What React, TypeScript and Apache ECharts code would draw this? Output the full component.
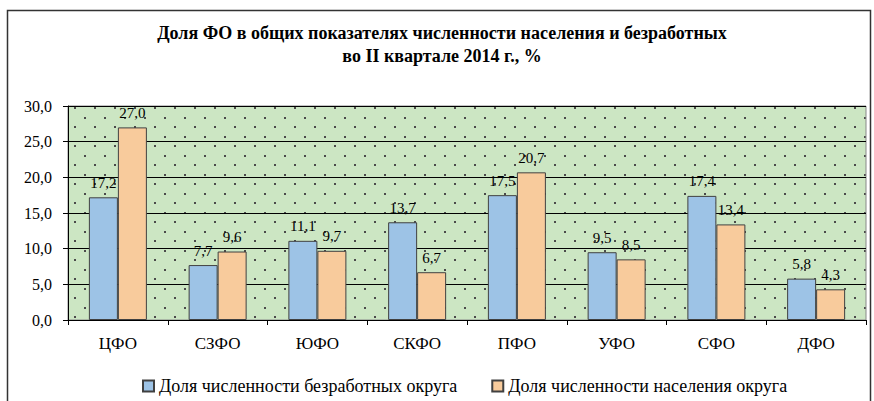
import React, { useEffect, useRef } from "react";
import * as echarts from "echarts";

const categories = ["ЦФО", "СЗФО", "ЮФО", "СКФО", "ПФО", "УФО", "СФО", "ДФО"];
const unemployedShare = [17.2, 7.7, 11.1, 13.7, 17.5, 9.5, 17.4, 5.8];
const populationShare = [27.0, 9.6, 9.7, 6.7, 20.7, 8.5, 13.4, 4.3];
const seriesNames = ["Доля численности безработных округа", "Доля численности населения округа"];
const titleText = "Доля ФО в общих показателях численности населения и безработных\nво II квартале 2014 г., %";

const FONT = "Liberation Serif, Times New Roman, serif";

function makePattern(): HTMLCanvasElement {
  const c = document.createElement("canvas");
  c.width = 20;
  c.height = 19;
  const ctx = c.getContext("2d")!;
  ctx.fillStyle = "#CCE6C3";
  ctx.fillRect(0, 0, 20, 19);
  ctx.fillStyle = "#4a4a4a";
  ctx.fillRect(4, 3, 2, 2);
  ctx.fillRect(14, 12, 2, 2);
  return c;
}

export default function App() {
  const ref = useRef<HTMLDivElement>(null);
  useEffect(() => {
    if (!ref.current) return;
    const chart = echarts.init(ref.current, undefined, { renderer: "svg" });
    const pat = makePattern();
    const labelStyle = {
      show: true,
      position: "top" as const,
      distance: 7,
      fontFamily: FONT,
      fontSize: 15,
      color: "#000",
      formatter: (p: any) => p.value.toFixed(1).replace(".", ","),
    };
    chart.setOption({
      animation: false,
      backgroundColor: "#fff",
      textStyle: { fontFamily: FONT },
      title: {
        text: titleText,
        left: 437,
        textAlign: "center",
        top: 16,
        textStyle: { fontFamily: FONT, fontSize: 18, fontWeight: "bold", color: "#000", lineHeight: 23 },
      },
      graphic: [
        {
          type: "rect",
          shape: { x: 7.5, y: 10.5, width: 863, height: 400 },
          style: { fill: "none", stroke: "#333", lineWidth: 1.5 },
          z: 100,
        },
      ],
      legend: {
        left: 137,
        bottom: 1,
        itemWidth: 11,
        itemHeight: 11,
        itemGap: 34,
        icon: "rect",
        textStyle: { fontFamily: FONT, fontSize: 18, color: "#000" },
        data: seriesNames,
      },
      grid: {
        left: 68,
        right: 8,
        top: 106,
        bottom: 81,
        show: true,
        backgroundColor: { image: pat, repeat: "repeat", imageWidth: 20, imageHeight: 19 } as any,
        borderColor: "#888",
        borderWidth: 1,
      },
      xAxis: {
        type: "category",
        data: categories,
        axisLine: { lineStyle: { color: "#000" } },
        axisTick: { show: true, length: 5, lineStyle: { color: "#000" } },
        axisLabel: { fontFamily: FONT, fontSize: 17, color: "#000", margin: 15 },
      },
      yAxis: {
        type: "value",
        min: 0,
        max: 30,
        interval: 5,
        axisLine: { show: true, lineStyle: { color: "#000" } },
        axisTick: { show: true, length: 5, lineStyle: { color: "#000" } },
        axisLabel: {
          fontFamily: FONT,
          fontSize: 16,
          color: "#000",
          margin: 16,
          formatter: (v: number) => v.toFixed(1).replace(".", ","),
        },
        splitLine: { lineStyle: { color: "#000", width: 1 } },
      },
      series: [
        {
          name: seriesNames[0],
          type: "bar",
          data: unemployedShare,
          barWidth: 29,
          barGap: "0%",
          itemStyle: { color: "#9DC3E6", borderColor: "#404040", borderWidth: 1 },
          label: labelStyle,
        },
        {
          name: seriesNames[1],
          type: "bar",
          data: populationShare,
          barWidth: 29,
          itemStyle: { color: "#F8CB9C", borderColor: "#404040", borderWidth: 1 },
          label: labelStyle,
        },
      ],
    });
    return () => chart.dispose();
  }, []);
  return (
    <div
      ref={ref}
      style={{ position: "fixed", left: 0, top: 0, width: 874, height: 401 }}
    />
  );
}
